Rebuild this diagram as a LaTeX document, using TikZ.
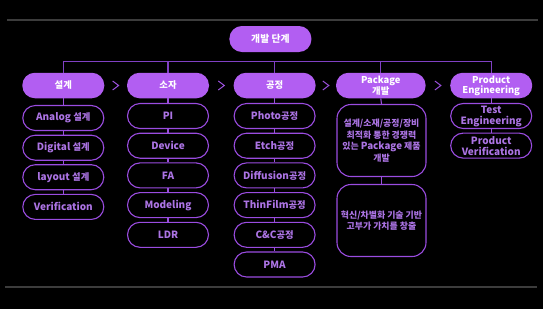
\documentclass[tikz,border=0pt]{standalone}
\usepackage{fontspec}
\setmainfont{Noto Sans CJK KR}
\usetikzlibrary{calc}
\definecolor{hfill}{HTML}{B25EF2}
\definecolor{iborder}{HTML}{9A4CE0}
\definecolor{itext}{HTML}{AC74E4}
\definecolor{lcolor}{HTML}{9A50DC}
\definecolor{buscolor}{HTML}{8040C4}
\definecolor{grayline}{HTML}{3C3C3C}
\newcommand\ko[1]{{\fontsize{9.3}{11}\selectfont #1}}
\begin{document}
\begin{tikzpicture}[x=1pt,y=-1pt,
  hdr/.style={rectangle, rounded corners=12.5pt, fill=hfill, text=white,
    minimum width=82pt, minimum height=25.5pt, inner sep=0pt, align=center,
    font=\bfseries\fontsize{9.4}{9.8}\selectfont},
  item/.style={rectangle, rounded corners=12.5pt, draw=iborder, line width=1.1pt,
    fill=black, text=itext, minimum width=81pt, minimum height=25pt, inner sep=0pt,
    align=center, font=\bfseries\fontsize{10}{11}\selectfont},
  bigbox/.style={item, rounded corners=14pt, minimum width=89pt, minimum height=72pt,
    font=\bfseries\fontsize{8.9}{11.6}\selectfont},
  link/.style={draw=lcolor, line width=1.1pt},
  bus/.style={draw=buscolor, line width=1.2pt},
  chev/.style={draw=lcolor, line width=1pt},
  sep/.style={draw=grayline, line width=1.6pt}]
\fill[black] (0,0) rectangle (543,309);
\useasboundingbox (0,0) rectangle (543,309);
\draw[sep] (7,20) -- (538,20);
\draw[sep] (5,287) -- (537,287);

\node[hdr, minimum height=26pt] (top) at (270.4,39) {{\fontsize{9.8}{11}\selectfont 개발 단계}};

\node[hdr] (h1) at (63.3,85.5) {\ko{설계}};
\node[hdr] (h2) at (168,85.5) {\ko{소자}};
\node[hdr] (h3) at (274.6,85.5) {\ko{공정}};
\node[hdr, minimum width=89.6pt] (h4) at (380.8,85.5) {Package\\\ko{개발}};
\node[hdr] (h5) at (491.2,85.5) {Product\\Engineering};

\coordinate (bus) at (0,61.7);
\draw[bus] (h1.north) -- (h1.north |- bus) -- (h5.north |- bus) -- (h5.north);
\foreach \n in {h2,h3,h4}{\draw[bus] (\n.north) -- (\n.north |- bus);}

\foreach \a/\b in {h1/h2,h2/h3,h3/h4,h4/h5}{
  \coordinate (m) at ($(\a.east)!0.5!(\b.west)$);
  \draw[chev] ($(m)+(-3,-4.5)$) -- ($(m)+(3,0)$) -- ($(m)+(-3,4.5)$);
}

% column 1
\node[item] (a1) at (63.3,118) {Analog \ko{설계}};
\node[item] (a2) at (63.3,147.7) {Digital \ko{설계}};
\node[item] (a3) at (63.3,177.2) {layout \ko{설계}};
\node[item] (a4) at (63.3,206.9) {Verification};
% column 2
\node[item] (b1) at (168,116) {PI};
\node[item] (b2) at (168,145.7) {Device};
\node[item] (b3) at (168,175.4) {FA};
\node[item] (b4) at (168,205.1) {Modeling};
\node[item] (b5) at (168,234.8) {LDR};
% column 3
\node[item] (c1) at (274.6,116) {Photo\ko{공정}};
\node[item] (c2) at (274.6,145.7) {Etch\ko{공정}};
\node[item] (c3) at (274.6,175.4) {Diffusion\ko{공정}};
\node[item] (c4) at (274.6,205.1) {ThinFilm\ko{공정}};
\node[item] (c5) at (274.6,234.8) {C\&C\ko{공정}};
\node[item] (c6) at (274.6,264.5) {PMA};
% column 4
\node[bigbox] (d1) at (381.5,140.5) {설계/소재/공정/장비\\최적화 통한 경쟁력\\있는 {\fontsize{9.8}{11.6}\selectfont Package} 제품\\개발};
\node[bigbox] (d2) at (381.5,220.5) {혁신/차별화 기술 기반\\고부가 가치를 창출};
% column 5
\node[item] (e1) at (491.2,116) {Test\\Engineering};
\node[item] (e2) at (491.2,145.6) {Product\\Verification};

\draw[link] (h1.south) -- (a1.north);
\draw[link] (a1.south) -- (a2.north);
\draw[link] (a2.south) -- (a3.north);
\draw[link] (a3.south) -- (a4.north);
\draw[link] (h2.south) -- (b1.north);
\draw[link] (b1.south) -- (b2.north);
\draw[link] (b2.south) -- (b3.north);
\draw[link] (b3.south) -- (b4.north);
\draw[link] (b4.south) -- (b5.north);
\draw[link] (h3.south) -- (c1.north);
\draw[link] (c1.south) -- (c2.north);
\draw[link] (c2.south) -- (c3.north);
\draw[link] (c3.south) -- (c4.north);
\draw[link] (c4.south) -- (c5.north);
\draw[link] (c5.south) -- (c6.north);
\draw[link] (h4.south) -- (d1.north);
\draw[link] (d1.south) -- (d2.north);
\draw[link] (h5.south) -- (e1.north);
\draw[link] (e1.south) -- (e2.north);
\end{tikzpicture}
\end{document}
